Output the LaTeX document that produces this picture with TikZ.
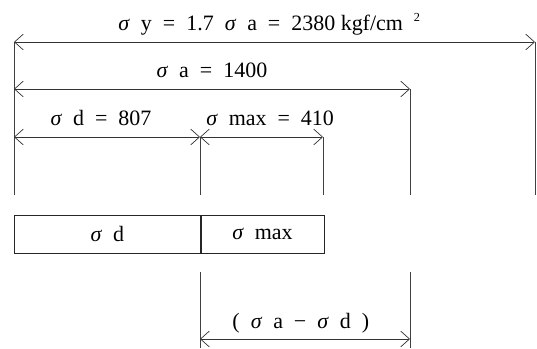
\documentclass[tikz,border=0pt]{standalone}
\usepackage{fontspec}
\setmainfont{Liberation Serif}
\usetikzlibrary{arrows.meta}

\newcommand{\gap}{\hspace{0.5em}}
\newcommand{\sig}{\textit{σ}\gap}

\begin{document}
\begin{tikzpicture}[
    x=0.02cm,
    y=-0.02cm,
    dimline/.style={
        {Straight Barb[length=5pt,width=9pt]}-{Straight Barb[length=5pt,width=9pt]},
        draw=black!80
    },
    extline/.style={draw=black!75},
    value/.style={
        font=\fontsize{12.5}{15}\selectfont,
        inner sep=0pt,
        text depth=0pt
    },
    part/.style={
        draw=black!85,
        font=\fontsize{12.5}{15}\selectfont,
        minimum height=0.76cm,
        inner sep=0pt
    }
]
\useasboundingbox (0,0) rectangle (537,348);

% Dimension ends, numbered from the top down.
\coordinate (o1) at (14,42);
\coordinate (y1) at (535,42);
\coordinate (o2) at (14,89);
\coordinate (a2) at (410,89);
\coordinate (o3) at (14,137);
\coordinate (d3) at (200,137);
\coordinate (m3) at (323,137);
\foreach \name/\x in {o/14,d/200,m/323,a/410,y/535}{
    \coordinate (\name4) at (\x,195);
}
\coordinate (d5) at (200,272);
\coordinate (a5) at (410,272);
\coordinate (d6) at (200,339);
\coordinate (a6) at (410,339);
\coordinate (d7) at (200,348);
\coordinate (a7) at (410,348);

% Extension lines
\draw[extline] (o1) -- (o4);
\draw[extline] (d3) -- (d4);
\draw[extline] (m3) -- (m4);
\draw[extline] (a2) -- (a4);
\draw[extline] (y1) -- (y4);
\draw[extline] (d5) -- (d7);
\draw[extline] (a5) -- (a7);

% Dimension arrows
\draw[dimline] (o1) -- (y1)
    node[value, pos=0.49, above=6.5pt] (sy)
    {\sig y\gap=\gap 1.7\gap\sig a\gap=\gap 2380 kgf/cm\gap\raisebox{0.9ex}{\scriptsize 2}};
\draw[dimline] (o2) -- (a2)
    node[value, midway, above=6.5pt] (sa) {\sig a\gap=\gap 1400};
\draw[dimline] (o3) -- (d3)
    node[value, pos=0.468, above=6.5pt] (sd) {\sig d\gap=\gap 807};
\draw[dimline] (d3) -- (m3)
    node[value, pos=0.57, above=6.5pt] (sm) {\sig max\gap=\gap 410};
\draw[dimline] (d6) -- (a6)
    node[value, pos=0.48, above=5.5pt] (sad) {(\gap\sig a\gap−\gap\sig d\gap)};

% Stress bar
\node[part, minimum width=3.72cm, anchor=north west] (bard) at (14,215)
    {\sig d};
\node[part, minimum width=2.46cm, anchor=north west] (barm) at (bard.north east)
    {\sig max};
\end{tikzpicture}
\end{document}
